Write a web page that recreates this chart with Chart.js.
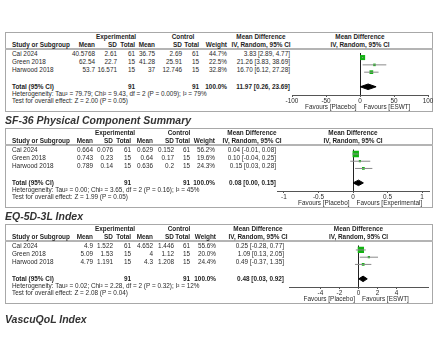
<!DOCTYPE html>
<html>
<head>
<meta charset="utf-8">
<title>Forest plots</title>
<script src="https://cdn.jsdelivr.net/npm/chart.js@4.4.1/dist/chart.umd.min.js"></script>
<style>
  body { margin: 0; width: 440px; height: 350px; background: #fff; position: relative; overflow: hidden;
         font-family: "Liberation Sans", Arial, sans-serif; color: #2a2a2a; }
  .box { position: absolute; left: 5px; width: 428px; border: 1px solid #a8a8a8; box-sizing: border-box; }
  .rule { position: absolute; left: 5px; width: 428px; height: 2px; background: #b4b4b4; }
  .txt { position: absolute; white-space: nowrap; font-size: 6.4px; line-height: 8px; }
  .b { font-weight: bold; color: #1e1e1e; }
  .title { position: absolute; left: 5px; white-space: nowrap; font-size: 10.5px; line-height: 12px;
           font-weight: bold; font-style: italic; color: #333; }
  canvas { position: absolute; }
</style>
</head>
<body>
<script>
const studies = ['Cai 2024', 'Green 2018', 'Harwood 2018'];
const expN = [61, 15, 15];
const ctlN = [61, 15, 15];
const totalWeight = [100.0, 100.0, 100.0];

// top panel
const p1ExpMean = [40.5768, 62.54, 53.7];
const p1ExpSD = [2.61, 22.7, 16.571];
const p1CtlMean = [36.75, 41.28, 37];
const p1CtlSD = [2.69, 25.91, 12.746];
const p1Weight = [44.7, 22.5, 32.8];
const p1MD = [3.83, 21.26, 16.70];
const p1Low = [2.89, 3.83, 6.12];
const p1High = [4.77, 38.69, 27.28];
const p1Pooled = [11.97, 0.26, 23.69];
const p1Ticks = [-100, -50, 0, 50, 100];

// second panel
const p2ExpMean = [0.664, 0.743, 0.789];
const p2ExpSD = [0.076, 0.23, 0.14];
const p2CtlMean = [0.629, 0.64, 0.636];
const p2CtlSD = [0.152, 0.17, 0.2];
const p2Weight = [56.2, 19.6, 24.3];
const p2MD = [0.04, 0.10, 0.15];
const p2Low = [-0.01, -0.04, 0.03];
const p2High = [0.08, 0.25, 0.28];
const p2Pooled = [0.08, 0.00, 0.15];
const p2Ticks = [-1, -0.5, 0, 0.5, 1];

// third panel
const p3ExpMean = [4.9, 5.09, 4.79];
const p3ExpSD = [1.522, 1.53, 1.191];
const p3CtlMean = [4.652, 4, 4.3];
const p3CtlSD = [1.446, 1.12, 1.208];
const p3Weight = [55.6, 20.0, 24.4];
const p3MD = [0.25, 1.09, 0.49];
const p3Low = [-0.28, 0.13, -0.37];
const p3High = [0.77, 2.05, 1.35];
const p3Pooled = [0.48, 0.03, 0.92];
const p3Ticks = [-4, -2, 0, 2, 4];

const heterogeneity = [
    'Heterogeneity: Tau² = 79.79; Chi² = 9.43, df = 2 (P = 0.009); I² = 79%',
    'Heterogeneity: Tau² = 0.00; Chi² = 3.65, df = 2 (P = 0.16); I² = 45%',
    'Heterogeneity: Tau² = 0.02; Chi² = 2.28, df = 2 (P = 0.32); I² = 12%'
];
const overallTest = [
    'Test for overall effect: Z = 2.00 (P = 0.05)',
    'Test for overall effect: Z = 1.99 (P = 0.05)',
    'Test for overall effect: Z = 2.08 (P = 0.04)'
];
const favours = [
    ['Favours [Placebo]', 'Favours [ESWT]'],
    ['Favours [Placebo]', 'Favours [Experimental]'],
    ['Favours [Placebo]', 'Favours [ESWT]']
];
const titles = ['SF-36 Physical Component Summary', 'EQ-5D-3L Index', 'VascuQoL Index'];
const axisMin = [-100, -1.1, -7.3];
const axisMax = [100, 1.1, 7.3];

const panelData = [
    [p1ExpMean, p1ExpSD, p1CtlMean, p1CtlSD, p1Weight, p1MD, p1Low, p1High, p1Pooled, p1Ticks],
    [p2ExpMean, p2ExpSD, p2CtlMean, p2CtlSD, p2Weight, p2MD, p2Low, p2High, p2Pooled, p2Ticks],
    [p3ExpMean, p3ExpSD, p3CtlMean, p3CtlSD, p3Weight, p3MD, p3Low, p3High, p3Pooled, p3Ticks]
];

// page layout (px)
const layout = [
    { top: 32, cols: [95, 117, 135, 155, 182, 199, 227], mdHead: 261, mdRight: 290, exp: 116, ctl: 183, axis: [292, 428] },
    { top: 128, cols: [93, 113, 131, 153, 174, 190, 215], mdHead: 252, mdRight: 276, exp: 115, ctl: 179, axis: [277, 429] },
    { top: 224, cols: [93, 113, 131, 153, 174, 190, 216], mdHead: 258, mdRight: 284, exp: 115, ctl: 179, axis: [289, 428] }
];
const titleY = [120, 216, 319];

function put(text, x, y, align, bold) {
    const el = document.createElement('div');
    el.className = 'txt' + (bold ? ' b' : '');
    el.textContent = text;
    el.style.top = (y - 4) + 'px';
    if (align === 'r') {
        el.style.right = (440 - x) + 'px';
    } else if (align === 'c') {
        el.style.left = x + 'px';
        el.style.transform = 'translateX(-50%)';
    } else {
        el.style.left = x + 'px';
    }
    document.body.appendChild(el);
}

function addDiv(cls, top, height) {
    const el = document.createElement('div');
    el.className = cls;
    el.style.top = top + 'px';
    if (height) el.style.height = height + 'px';
    document.body.appendChild(el);
}

const ci = (m, lo, hi) => `${m.toFixed(2)} [${lo.toFixed(2)}, ${hi.toFixed(2)}]`;

function drawPanel(p) {
    const L = layout[p];
    const T = L.top;
    const c = L.cols;
    const [expMean, expSD, ctlMean, ctlSD, weight, md, low, high, pooled, ticks] = panelData[p];
    const axisMid = (L.axis[0] + L.axis[1]) / 2;

    addDiv('box', T, 80);
    addDiv('rule', T + 16);

    // header
    put('Experimental', L.exp, T + 5, 'c', true);
    put('Control', L.ctl, T + 5, 'c', true);
    put('Mean Difference', L.mdHead, T + 5, 'c', true);
    put('Mean Difference', axisMid, T + 5, 'c', true);
    put('Study or Subgroup', 12, T + 13, 'l', true);
    ['Mean', 'SD', 'Total', 'Mean', 'SD', 'Total', 'Weight'].forEach((h, i) => put(h, c[i], T + 13, 'r', true));
    put('IV, Random, 95% CI', L.mdHead, T + 13, 'c', true);
    put('IV, Random, 95% CI', axisMid, T + 13, 'c', true);

    // study rows
    studies.forEach((s, i) => {
        const y = T + 22 + i * 8;
        put(s, 12, y, 'l');
        [expMean[i], expSD[i], expN[i], ctlMean[i], ctlSD[i], ctlN[i]].forEach((v, k) => put(String(v), c[k], y, 'r'));
        put(weight[i].toFixed(1) + '%', c[6], y, 'r');
        put(ci(md[i], low[i], high[i]), L.mdRight, y, 'r');
    });

    // totals
    const yt = T + 55;
    const sum = a => a.reduce((s, v) => s + v, 0);
    put('Total (95% CI)', 12, yt, 'l', true);
    put(String(sum(expN)), c[2], yt, 'r', true);
    put(String(sum(ctlN)), c[5], yt, 'r', true);
    put(totalWeight[p].toFixed(1) + '%', c[6], yt, 'r', true);
    put(ci(pooled[0], pooled[1], pooled[2]), L.mdRight, yt, 'r', true);
    put(heterogeneity[p], 12, T + 62, 'l');
    put(overallTest[p], 12, T + 69, 'l');

    // forest plot
    const pad = 12;
    const w = L.axis[1] - L.axis[0] + 2 * pad;
    const h = 46 + 14;
    const canvas = document.createElement('canvas');
    canvas.width = w;
    canvas.height = h;
    canvas.style.left = (L.axis[0] - pad) + 'px';
    canvas.style.top = (T + 17) + 'px';
    canvas.style.width = w + 'px';
    canvas.style.height = h + 'px';
    document.body.appendChild(canvas);

    const zeroPx = L.axis[0] + (0 - axisMin[p]) / (axisMax[p] - axisMin[p]) * (L.axis[1] - L.axis[0]);
    put(favours[p][0], zeroPx - 3.5, T + 74.5, 'r');
    put(favours[p][1], zeroPx + 3.5, T + 74.5, 'l');

    const datasets = studies.map((s, i) => ({
        type: 'line',
        data: [{ x: low[i], y: i + 1 }, { x: high[i], y: i + 1 }],
        borderColor: '#8a8a8a',
        borderWidth: 1,
        pointRadius: 0
    }));
    datasets.push({
        type: 'scatter',
        data: studies.map((s, i) => ({ x: md[i], y: i + 1 })),
        pointStyle: 'rect',
        pointRadius: weight.map(wt => wt * 0.08),
        backgroundColor: '#12b312',
        borderWidth: 0
    });
    const yp = 5; // pooled row
    datasets.push({
        type: 'line',
        data: [
            { x: pooled[1], y: yp }, { x: pooled[0], y: yp - 0.38 },
            { x: pooled[2], y: yp }, { x: pooled[0], y: yp + 0.38 },
            { x: pooled[1], y: yp }
        ],
        fill: 'shape',
        backgroundColor: '#000',
        borderColor: '#000',
        borderWidth: 1,
        pointRadius: 0,
        tension: 0
    });

    new Chart(canvas, {
        type: 'scatter',
        data: { datasets: datasets },
        options: {
            responsive: false,
            animation: false,
            devicePixelRatio: 1,
            layout: { padding: { left: pad, right: pad, top: 0, bottom: 0 } },
            plugins: { legend: { display: false }, tooltip: { enabled: false } },
            scales: {
                x: {
                    type: 'linear',
                    min: axisMin[p],
                    max: axisMax[p],
                    afterBuildTicks: s => { s.ticks = ticks.map(v => ({ value: v })); },
                    afterFit: s => { s.height = 14; },
                    border: { color: '#555', width: 1 },
                    grid: {
                        color: ctx => (ctx.tick && ctx.tick.value === 0 ? '#222' : 'rgba(0,0,0,0)'),
                        tickColor: '#555',
                        tickLength: 2
                    },
                    ticks: {
                        font: { family: 'Liberation Sans', size: 6.4 },
                        color: '#2a2a2a',
                        padding: 0,
                        autoSkip: false,
                        maxRotation: 0,
                        callback: v => String(v)
                    }
                },
                y: { type: 'linear', display: false, reverse: true, min: 0.375, max: 6.125 }
            }
        }
    });
}

[0, 1, 2].forEach(drawPanel);

titles.forEach((t, i) => {
    const el = document.createElement('div');
    el.className = 'title';
    el.textContent = t;
    el.style.top = (titleY[i] - 6) + 'px';
    document.body.appendChild(el);
});
</script>
</body>
</html>
